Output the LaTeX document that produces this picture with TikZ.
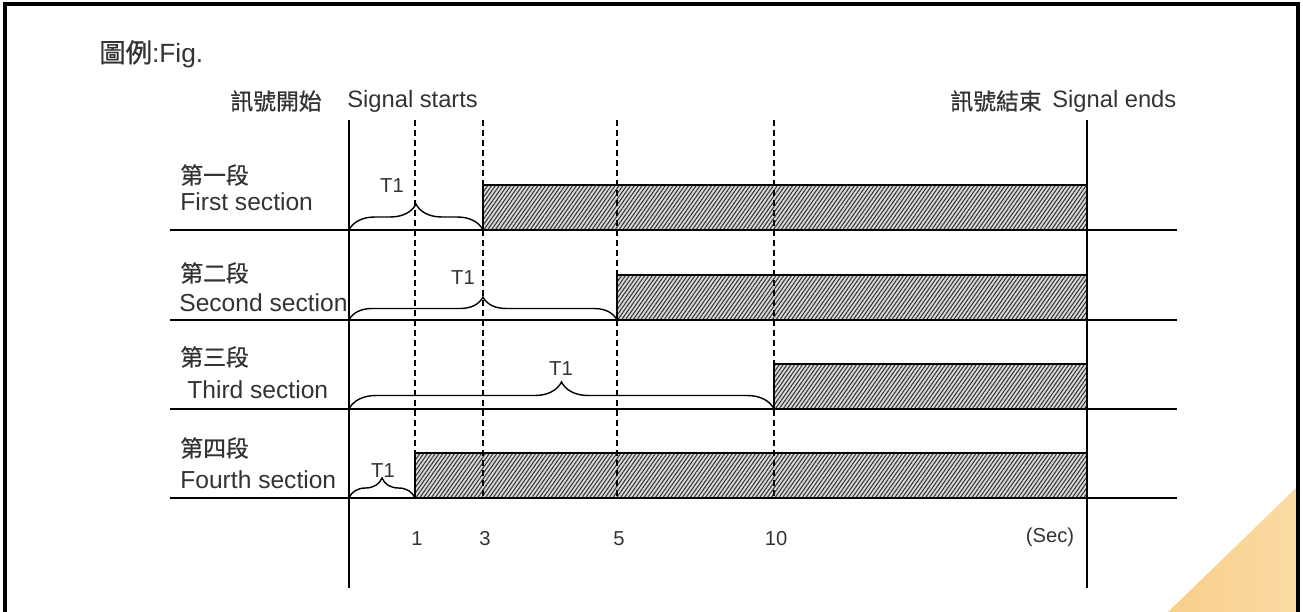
\documentclass[tikz,border=0pt]{standalone}
\usepackage{fontspec}
\setmainfont{Liberation Sans}
\newfontfamily\cjk[FakeBold=0.7]{Noto Sans CJK TC}
\usetikzlibrary{patterns.meta,decorations.pathreplacing}
\definecolor{Ink}{HTML}{333333}
\definecolor{Peach}{HTML}{F8CF8A}
\definecolor{PeachLight}{HTML}{FADBA4}

\begin{document}
\begin{tikzpicture}[
  x=0.02cm,y=-0.02cm,
  head/.style={anchor=west,inner sep=0pt,text=Ink,font=\fontsize{13.5}{16}\selectfont},
  rowlbl/.style={anchor=west,inner sep=0pt,text=Ink,font=\fontsize{14}{17}\selectfont},
  small/.style={inner sep=0pt,text=Ink,font=\fontsize{11.5}{13}\selectfont},
  rule/.style={line width=0.8pt},
  tick/.style={line width=0.8pt,dash pattern=on 0.12cm off 0.08cm},
  hatch/.style={draw,line width=0.9pt,preaction={fill=gray!30},pattern={Lines[angle=55,distance=1.8pt,line width=0.6pt]},pattern color=black!80},
  brc/.style={decorate,decoration={brace,amplitude=#1},line width=0.8pt}
]
\useasboundingbox (0,0) rectangle (1303,612);
\shade[left color=Peach,right color=PeachLight] (1168,612) -- (1298,486) -- (1298,612) -- cycle;
\draw[line width=1.8pt] (5,620) -- (5,4) -- (1298,4) -- (1298,620);

\node[head,font=\fontsize{15}{18}\selectfont] (fig) at (99,54) {{\cjk 圖例}:Fig.};
\node[head,font=\cjk\fontsize{13}{16}\selectfont] (startcjk) at (230,101) {訊號開始};
\node[head] (start) at (347,101) {Signal starts};
\node[head,font=\cjk\fontsize{13}{16}\selectfont] (endcjk) at (950,101) {訊號結束};
\node[head] (end) at (1052,101) {Signal ends};

\coordinate (s0) at (349,120);
\coordinate (s1) at (349,588);
\coordinate (e0) at (1087,120);
\coordinate (e1) at (1087,588);

\foreach \a/\y in {483/230,617/320,774/409,415/498}
  \draw[hatch] (\a,\y) rectangle (1087,\y-45);

\draw[rule] (s0) -- (s1);
\draw[rule] (e0) -- (e1);
\foreach \y [count=\i] in {230,320,409,498} {
  \coordinate (l\i) at (170,\y);
  \coordinate (r\i) at (1177,\y);
  \draw[rule] (l\i) -- (r\i);
}
\foreach \x/\n in {415/1,483/3,617/5,774/10} {
  \coordinate (d\n) at (\x,120);
  \coordinate (g\n) at (\x,498);
  \draw[tick] (d\n) -- (g\n);
  \node[small] (t\n) at (\x+2,539) {\n};
}
\node[small] (sec) at (1050,537) {(Sec)};

\foreach \i/\c/\e/\yc/\ye/\xe in {1/第一段/First section/175/202/180,2/第二段/Second section/273/303/179,3/第三段/Third section/357/390/187,4/第四段/Fourth section/448/480/180} {
  \node[rowlbl,font=\cjk\fontsize{13}{16}\selectfont] (c\i) at (180,\yc) {\c};
  \node[rowlbl] (n\i) at (\xe,\ye) {\e};
}

\draw[brc=0.52cm] (l1 -| s0) -- (l1 -| d3);
\draw[brc=0.46cm] (l2 -| s0) -- (l2 -| d5);
\draw[brc=0.54cm] (l3 -| s0) -- (l3 -| d10);
\draw[brc=0.40cm] (l4 -| s0) -- (l4 -| d1);
\node[small] (b1) at (392,186) {T1};
\node[small] (b2) at (463,278) {T1};
\node[small] (b3) at (561,369) {T1};
\node[small] (b4) at (383,471) {T1};
\end{tikzpicture}
\end{document}
